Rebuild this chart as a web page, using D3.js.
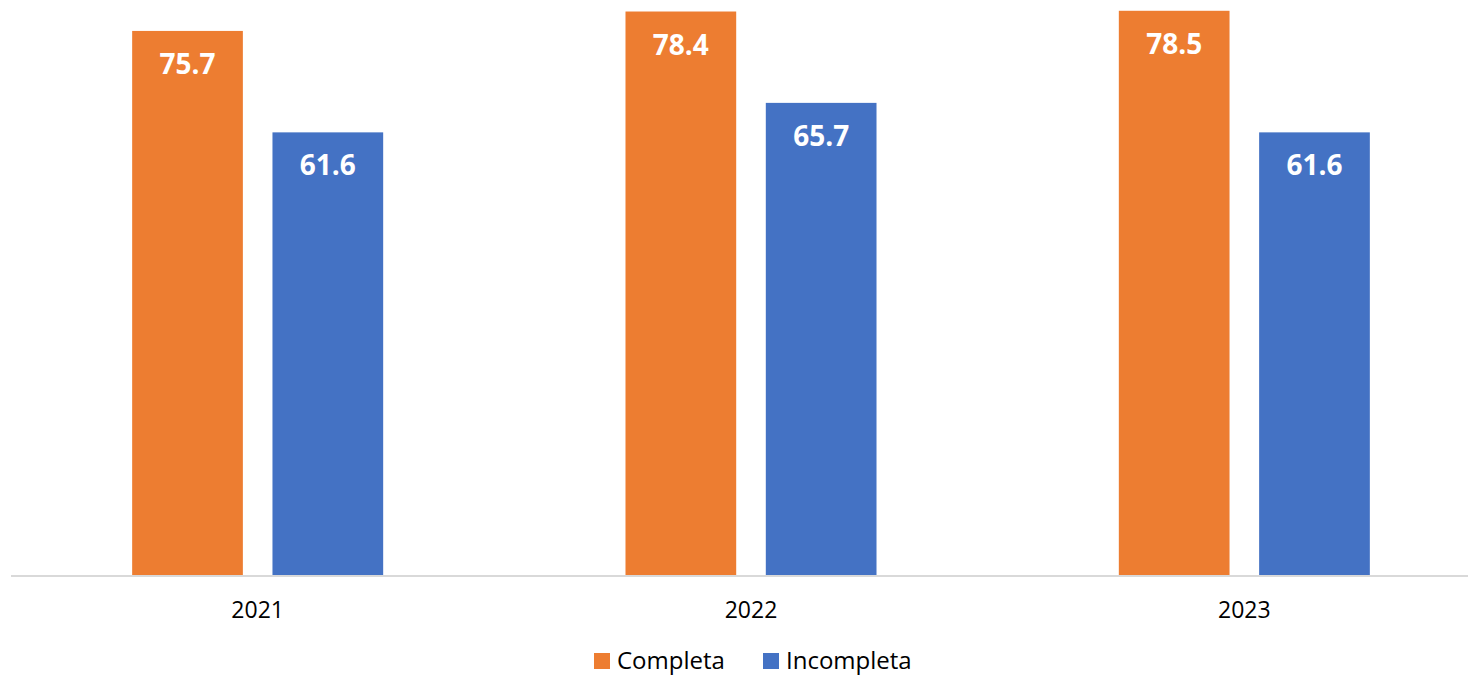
<!DOCTYPE html>
<html>
<head>
<meta charset="utf-8">
<title>Completa vs Incompleta</title>
<script src="https://d3js.org/d3.v7.min.js"></script>
<style>
body { margin: 0; background: #fff; font-family: "Open Sans", sans-serif; }
</style>
</head>
<body>
<div id="chart"></div>
<script>
// data
var years = ["2021", "2022", "2023"];
var series = ["Completa", "Incompleta"];
var completa = [75.7, 78.4, 78.5];
var incompleta = [61.6, 65.7, 61.6];
var colors = ["#ED7D31", "#4472C4"];

var width = 1468, height = 676;
var baseY = 575.5;

var svg = d3.select("#chart").append("svg")
	.attr("width", width)
	.attr("height", height);

var x0 = d3.scaleBand().domain(years).range([11, 1491]).padding(0);
var x1 = d3.scaleBand().domain(series)
	.range([0, x0.bandwidth()])
	.paddingInner(0.211)
	.paddingOuter(0.8635);
var y = d3.scaleLinear().domain([0, 80]).range([baseY, 0]);

var rows = years.map(function(yr, i) {
	return { year: yr, values: [completa[i], incompleta[i]] };
});

var groups = svg.append("g").selectAll("g")
	.data(rows)
	.join("g")
	.attr("transform", d => "translate(" + x0(d.year) + ",0)");

var bars = groups.selectAll("g")
	.data(d => d.values.map((v, j) => ({ s: series[j], v: v, c: colors[j] })))
	.join("g");

bars.append("rect")
	.attr("x", d => x1(d.s))
	.attr("width", x1.bandwidth())
	.attr("y", d => y(d.v))
	.attr("height", d => baseY - y(d.v))
	.attr("fill", d => d.c);

bars.append("text")
	.attr("x", d => x1(d.s) + x1.bandwidth() / 2)
	.attr("y", d => y(d.v) + 43)
	.attr("text-anchor", "middle")
	.attr("fill", "#fff")
	.attr("font-weight", "bold")
	.attr("font-size", 28)
	.text(d => d.v.toFixed(1));

// axis line
svg.append("line")
	.attr("x1", 11).attr("x2", width)
	.attr("y1", baseY + 0.5).attr("y2", baseY + 0.5)
	.attr("stroke", "#D9D9D9")
	.attr("stroke-width", 2);

svg.append("g").selectAll("text")
	.data(years)
	.join("text")
	.attr("x", d => x0(d) + x0.bandwidth() / 2)
	.attr("y", 618)
	.attr("text-anchor", "middle")
	.attr("font-size", 23)
	.attr("fill", "#000")
	.text(d => d);

// legend
var legendX = [594, 763];
var legend = svg.append("g").selectAll("g")
	.data(series)
	.join("g")
	.attr("transform", (d, i) => "translate(" + legendX[i] + ",0)");

legend.append("rect")
	.attr("x", 0).attr("y", 653)
	.attr("width", 16).attr("height", 16)
	.attr("fill", (d, i) => colors[i]);

legend.append("text")
	.attr("x", 23)
	.attr("y", 669)
	.attr("font-size", 24)
	.attr("fill", "#000")
	.text(d => d);
</script>
</body>
</html>
